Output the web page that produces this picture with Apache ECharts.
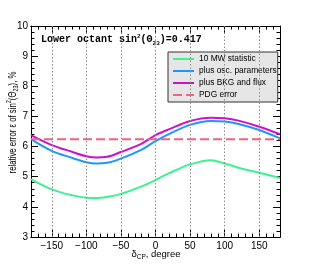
<!DOCTYPE html>
<html><head><meta charset="utf-8">
<script src="https://cdn.jsdelivr.net/npm/echarts@6/dist/echarts.min.js"></script>
<style>html,body{margin:0;padding:0;background:#fff}#c{width:311px;height:264px}</style>
</head><body><div id="c"></div>
<script>
const deltaCP = [-180,-150,-120,-100,-85,-70,-50,-20,0,20,50,80,100,120,150,180];
const stat10MW = [4.92,4.58,4.38,4.30,4.29,4.33,4.43,4.68,4.89,5.12,5.41,5.55,5.44,5.30,5.13,4.96];
const plusOsc  = [6.25,5.86,5.62,5.48,5.44,5.46,5.60,5.90,6.18,6.42,6.72,6.85,6.83,6.75,6.55,6.27];
const plusBkg  = [6.38,6.05,5.82,5.68,5.64,5.66,5.82,6.10,6.38,6.58,6.85,6.96,6.94,6.86,6.66,6.41];
const pdgError = 6.24;
const xMajorTicks = [-150,-100,-50,0,50,100,150];
const names = ['10 MW statistic','plus osc. parameters','plus BKG and flux','PDG error'];

const pairs = arr => deltaCP.map((x,i)=>[x,arr[i]]);
const FONT = '"Liberation Sans", Arial, sans-serif';
const MONO = '"Liberation Mono", "Courier New", monospace';
const minus = v => String(v).replace('-', '\u2212');

const chart = echarts.init(document.getElementById('c'));
const axLine = {show:true, onZero:false, lineStyle:{color:'#000', width:1}};
const majorX = (pos) => ({
  type:'value', min:-180, max:180, position:pos,
  axisLine: axLine,
  axisTick:{show:true, inside:true, length:7, customValues:xMajorTicks, lineStyle:{color:'#000'}},
  axisLabel:{show: pos==='bottom', customValues:xMajorTicks, formatter:minus, fontSize:10, fontFamily:FONT, color:'#000', margin:4},
  splitLine:{show:false}
});
const minorX = (pos) => ({
  type:'value', min:-180, max:180, interval:10, position:pos,
  axisLine: axLine,
  axisTick:{show:true, inside:true, length:3.5, lineStyle:{color:'#000'}},
  axisLabel:{show:false}, splitLine:{show:false}
});
const yAx = (pos) => ({
  type:'value', min:3, max:10, interval:1, position:pos,
  axisLine: axLine,
  axisTick:{show:true, inside:true, length:7, lineStyle:{color:'#000'}},
  minorTick:{show:true, splitNumber:5, length:3.5, lineStyle:{color:'#000'}},
  axisLabel:{show: pos==='left', fontSize:10, fontFamily:FONT, color:'#000', margin:3},
  splitLine:{show:false}
});

chart.setOption({
  animation:false,
  grid:{left:31, top:26, width:249, height:211},
  xAxis:[majorX('bottom'), minorX('bottom'), majorX('top'), minorX('top')],
  yAxis:[yAx('left'), yAx('right')],
  legend:{
    orient:'vertical', left:168, top:52, data:names,
    backgroundColor:'#e6e6e6', borderColor:'#333', borderWidth:1,
    padding:[3,1,3,4], itemWidth:21, itemHeight:9, itemGap:4, itemTextGap:3,
    itemStyle:{opacity:0},
    textStyle:{fontSize:8.4, fontFamily:FONT, color:'#000'}
  },
  series:[
    {name:names[0], type:'line', data:pairs(stat10MW), smooth:0.35, symbol:'none',
     lineStyle:{color:'#3ff28f', width:2}, itemStyle:{color:'#3ff28f'},
     markLine:{silent:true, symbol:'none', label:{show:false},
       lineStyle:{color:'#8c8c8c', type:[1.5,2], width:1},
       data: xMajorTicks.map(v=>({xAxis:v}))}},
    {name:names[1], type:'line', data:pairs(plusOsc), smooth:0.35, symbol:'none',
     lineStyle:{color:'#1e96ff', width:2}, itemStyle:{color:'#1e96ff'}},
    {name:names[2], type:'line', data:pairs(plusBkg), smooth:0.35, symbol:'none',
     lineStyle:{color:'#cc11cc', width:2}, itemStyle:{color:'#cc11cc'}},
    {name:names[3], type:'line', data:[[-180,pdgError],[180,pdgError]], symbol:'none',
     lineStyle:{color:'#f06280', width:2, type:[9,4]}, itemStyle:{color:'#f06280'}}
  ],
  graphic:[
    {type:'text', left:41, top:32, style:{
      text:'{m|Lower octant sin}{sup|2}{m|(Θ}{sub|23}{m|)=0.417}',
      rich:{
        m:{fontSize:10, fontWeight:'bold', fontFamily:MONO, color:'#000', lineHeight:14, verticalAlign:'middle'},
        sup:{fontSize:6, fontWeight:'bold', fontFamily:MONO, color:'#000', lineHeight:14, verticalAlign:'top', padding:[1,0,0,0]},
        sub:{fontSize:6, fontWeight:'bold', fontFamily:MONO, color:'#000', lineHeight:14, verticalAlign:'bottom', padding:[0,0,0,0]}
      }
    }},
    {type:'text', x:13, y:122.5, rotation:Math.PI/2, scaleX:0.78, style:{
      text:'{m|relative error ε of sin}{sup|2}{m|(Θ}{sub|23}{m|), %}',
      align:'center', verticalAlign:'middle',
      rich:{
        m:{fontSize:10, fontFamily:FONT, color:'#000', lineHeight:14, verticalAlign:'middle'},
        sup:{fontSize:7, fontFamily:FONT, color:'#000', lineHeight:14, verticalAlign:'top'},
        sub:{fontSize:7, fontFamily:FONT, color:'#000', lineHeight:14, verticalAlign:'bottom'}
      }
    }},
    {type:'text', x:156, y:254, style:{
      text:'{m|δ}{sub|CP}{m|, degree}',
      align:'center', verticalAlign:'middle',
      rich:{
        m:{fontSize:9.5, fontFamily:FONT, color:'#000', lineHeight:14, verticalAlign:'middle'},
        sub:{fontSize:6.5, fontFamily:FONT, color:'#000', lineHeight:14, verticalAlign:'bottom'}
      }
    }}
  ]
});
</script></body></html>
